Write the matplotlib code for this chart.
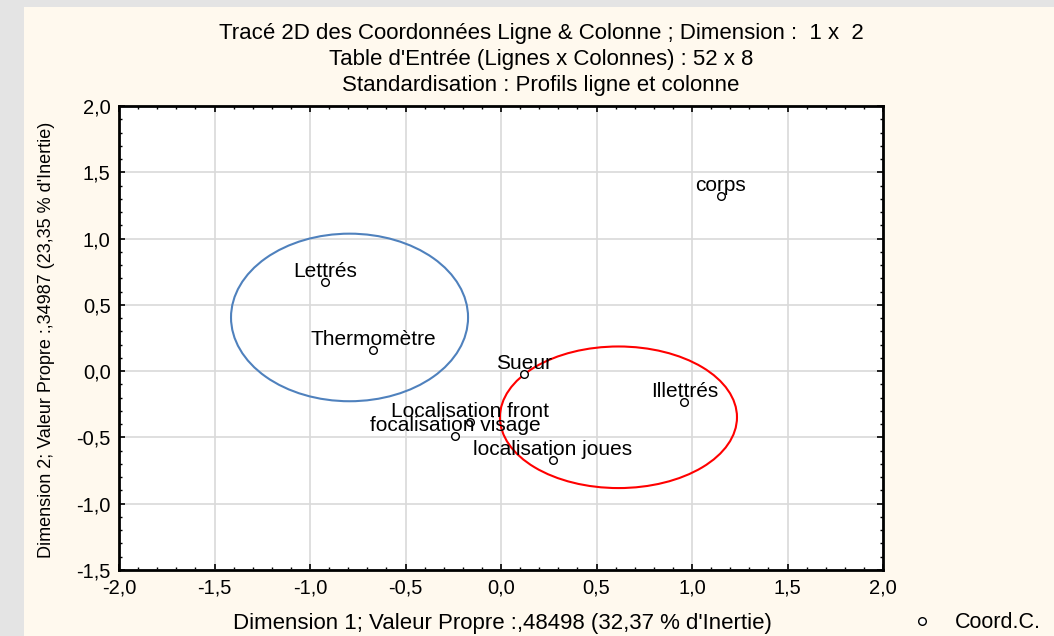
import matplotlib
matplotlib.use("Agg")
import matplotlib.pyplot as plt
from matplotlib.patches import Ellipse, Rectangle
from matplotlib.ticker import MultipleLocator, FuncFormatter
from matplotlib.lines import Line2D

plt.rcParams['font.family'] = ['Liberation Sans', 'DejaVu Sans']

# Data
labels = ["corps", "Lettrés", "Thermomètre", "Sueur", "Localisation front",
          "focalisation visage", "localisation joues", "Illettrés"]
dim1 = [1.15, -0.92, -0.67, 0.12, -0.16, -0.24, 0.27, 0.96]
dim2 = [1.32, 0.67, 0.16, -0.02, -0.38, -0.49, -0.67, -0.23]

titles = ["Tracé 2D des Coordonnées Ligne & Colonne ; Dimension :  1 x  2",
          "Table d'Entrée (Lignes x Colonnes) : 52 x 8",
          "Standardisation : Profils ligne et colonne"]
xlabel = "Dimension 1; Valeur Propre :,48498 (32,37 % d'Inertie)"
ylabel = "Dimension 2; Valeur Propre :,34987 (23,35 % d'Inertie)"
legend_label = "Coord.C."

W, H = 1054, 636
fig = plt.figure(figsize=(W / 100, H / 100), dpi=100)
fig.patch.set_facecolor('#E4E4E4')
fig.patches.append(Rectangle((24 / W, 0), 1 - 24 / W, 1 - 7 / H, transform=fig.transFigure,
                             facecolor='#FFF9EE', edgecolor='none', zorder=-5))

ax = fig.add_axes([119 / W, 1 - 570 / H, 764 / W, 464 / H])
ax.set_zorder(2)
ax.set_facecolor('white')
ax.set_xlim(-2.0, 2.0)
ax.set_ylim(-1.5, 2.0)
ax.xaxis.set_major_locator(MultipleLocator(0.5))
ax.yaxis.set_major_locator(MultipleLocator(0.5))
ax.xaxis.set_minor_locator(MultipleLocator(0.1))
ax.yaxis.set_minor_locator(MultipleLocator(0.1))
fmt = FuncFormatter(lambda v, p: f"{v:.1f}".replace('.', ','))
ax.xaxis.set_major_formatter(fmt)
ax.yaxis.set_major_formatter(fmt)
ax.tick_params(which='both', direction='in', top=True, right=True, color='black')
ax.tick_params(which='major', length=4, width=1.2, labelsize=14.5, pad=6)
ax.tick_params(which='minor', length=2.5, width=1)
ax.grid(True, which='major', color='#D9D9D9', linewidth=1.2)
ax.set_axisbelow(True)
for s in ax.spines.values():
    s.set_linewidth(2)
    s.set_color('black')

ax.plot(dim1, dim2, linestyle='none', marker='o', markersize=5.5,
        markerfacecolor='white', markeredgecolor='black', markeredgewidth=1, zorder=3)
for lab, x, y in zip(labels, dim1, dim2):
    ax.annotate(lab, (x, y), xytext=(0, 3.5), textcoords='offset points',
                ha='center', va='baseline', fontsize=15, zorder=4)

ax.add_patch(Ellipse((-0.793, 0.405), 1.241, 1.264, fill=False,
                     edgecolor='#4F81BD', linewidth=1.5, zorder=2))
ax.add_patch(Ellipse((0.615, -0.348), 1.241, 1.068, fill=False,
                     edgecolor='#FF0000', linewidth=1.5, zorder=2))

for i, t in enumerate(titles):
    fig.text(541 / W, 1 - (33 + 26 * i) / H, t, ha='center', va='center', fontsize=16)

fig.text(502 / W, 1 - 623 / H, xlabel, ha='center', va='center', fontsize=16)
fig.text(47 / W, 1 - 340 / H, ylabel, ha='center', va='center', rotation=90, fontsize=13)

fig.add_artist(Line2D([922 / W], [1 - 621 / H], transform=fig.transFigure, marker='o',
                      markersize=5.5, markerfacecolor='white', markeredgecolor='black',
                      markeredgewidth=1, linestyle='none'))
fig.text(955 / W, 1 - 622 / H, legend_label, ha='left', va='center', fontsize=15.5)

fig.savefig('out.png', dpi=100)
